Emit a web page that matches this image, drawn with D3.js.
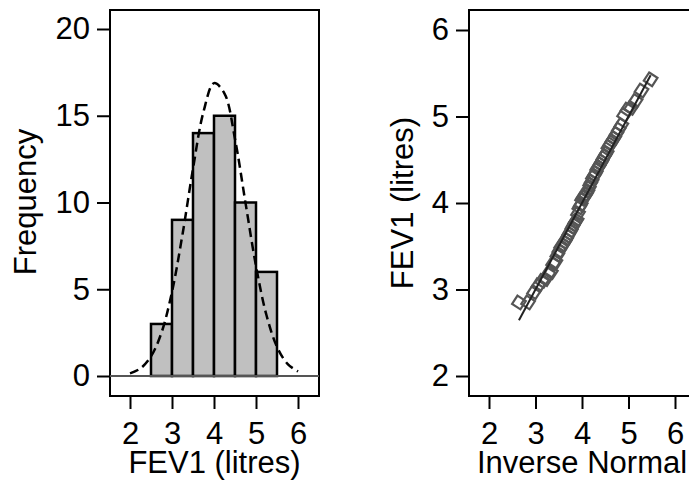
<!DOCTYPE html>
<html>
<head>
<meta charset="utf-8">
<script src="https://cdn.jsdelivr.net/npm/d3@7"></script>
<style>
  body { margin: 0; background: #fff; }
  svg { font-family: "Liberation Sans", Arial, Helvetica, sans-serif; }
  .tick text { font-size: 31px; fill: #000; }
  .tick line { stroke: #000; stroke-width: 2; }
</style>
</head>
<body>
<div id="chart"></div>
<script>
// histogram of FEV1 (bin starts, width 0.5)
const binStarts = [2.5, 3.0, 3.5, 4.0, 4.5, 5.0];
const binCounts = [3, 9, 14, 15, 10, 6];
const binWidth = 0.5;

// dashed normal density
const curveX = [2.0, 2.25, 2.5, 2.75, 3.0, 3.25, 3.5, 3.75, 4.0, 4.25, 4.5, 4.75, 5.0, 5.25, 5.5, 5.75, 6.0];
const curveY = [0.15, 0.44, 1.13, 2.5, 4.85, 8.16, 11.95, 15.23, 16.88, 16.28, 13.66, 9.98, 6.34, 3.5, 1.68, 0.7, 0.26];

// normal probability plot: inverse normal vs FEV1
const invNormal = [2.644, 2.841, 2.969, 3.066, 3.145, 3.214, 3.275, 3.330, 3.380, 3.427,
  3.471, 3.513, 3.552, 3.590, 3.626, 3.661, 3.696, 3.728, 3.761, 3.793,
  3.823, 3.854, 3.884, 3.914, 3.943, 3.973, 4.002, 4.031, 4.060, 4.089,
  4.118, 4.147, 4.177, 4.206, 4.236, 4.266, 4.297, 4.327, 4.359, 4.392,
  4.424, 4.459, 4.494, 4.530, 4.568, 4.607, 4.649, 4.693, 4.740, 4.790,
  4.845, 4.906, 4.975, 5.054, 5.151, 5.279, 5.476];
const fev1 = [2.85, 2.85, 2.97, 3.05, 3.10, 3.12, 3.18, 3.20, 3.30, 3.32,
  3.40, 3.45, 3.50, 3.52, 3.55, 3.58, 3.62, 3.65, 3.68, 3.72,
  3.75, 3.78, 3.80, 3.88, 3.95, 3.98, 4.05, 4.07, 4.08, 4.10,
  4.13, 4.17, 4.22, 4.25, 4.30, 4.32, 4.35, 4.40, 4.42, 4.45,
  4.48, 4.52, 4.55, 4.58, 4.65, 4.68, 4.72, 4.75, 4.80, 4.85,
  4.90, 5.02, 5.08, 5.10, 5.18, 5.30, 5.43];

const histTicksY = [0, 5, 10, 15, 20];
const ticks26 = [2, 3, 4, 5, 6];

const svg = d3.select('#chart').append('svg')
    .attr('width', 689).attr('height', 480);

// ---------- left panel: histogram ----------
let x1 = d3.scaleLinear().domain([2, 6]).range([130, 298]);
let y1 = d3.scaleLinear().domain([0, 20]).range([376, 29]);
let left = svg.append('g');

left.append('rect')
    .attr('x', 110).attr('y', 10).attr('width', 209).attr('height', 386)
    .attr('fill', 'none').attr('stroke', '#000').attr('stroke-width', 2);

left.selectAll('.bar')
    .data(binStarts)
    .enter().append('rect')
    .attr('class', 'bar')
    .attr('x', d => x1(d))
    .attr('y', (d, i) => y1(binCounts[i]))
    .attr('width', d => x1(d + binWidth) - x1(d))
    .attr('height', (d, i) => y1(0) - y1(binCounts[i]))
    .attr('fill', '#c0c0c0')
    .attr('stroke', '#000')
    .attr('stroke-width', 2.5);

left.append('line')
    .attr('x1', 110).attr('x2', 319)
    .attr('y1', y1(0)).attr('y2', y1(0))
    .attr('stroke', '#555').attr('stroke-width', 2);

let curveLine = d3.line()
    .x((d, i) => x1(d))
    .y((d, i) => y1(curveY[i]))
    .curve(d3.curveCatmullRom);

left.append('path')
    .attr('d', curveLine(curveX))
    .attr('fill', 'none')
    .attr('stroke', '#000')
    .attr('stroke-width', 2.5)
    .attr('stroke-dasharray', '9,5');

left.append('g')
    .attr('transform', 'translate(110,0)')
    .call(d3.axisLeft(y1).tickValues(histTicksY).tickFormat(d3.format('d')).tickSize(13).tickPadding(7))
    .call(g => g.select('.domain').remove());

left.append('g')
    .attr('transform', 'translate(0,396)')
    .call(d3.axisBottom(x1).tickValues(ticks26).tickFormat(d3.format('d')).tickSize(13).tickPadding(13))
    .call(g => g.select('.domain').remove());

left.append('text')
    .attr('transform', 'translate(36,202) rotate(-90)')
    .attr('text-anchor', 'middle')
    .attr('font-size', 31)
    .text('Frequency');

left.append('text')
    .attr('x', 214.5).attr('y', 473)
    .attr('text-anchor', 'middle')
    .attr('font-size', 31)
    .text('FEV1 (litres)');

// ---------- right panel: normal plot ----------
let x2 = d3.scaleLinear().domain([2, 6]).range([489, 675]);
let y2 = d3.scaleLinear().domain([2, 6]).range([376, 30]);
let right = svg.append('g');

right.append('rect')
    .attr('x', 469).attr('y', 10).attr('width', 229).attr('height', 386)
    .attr('fill', 'none').attr('stroke', '#000').attr('stroke-width', 2);

const diamond = 'M0,-7L7,0L0,7L-7,0Z';

right.selectAll('.pt')
    .data(invNormal)
    .enter().append('path')
    .attr('class', 'pt')
    .attr('d', diamond)
    .attr('transform', (d, i) => `translate(${x2(d)},${y2(fev1[i])}) rotate(-12)`)
    .attr('fill', 'none')
    .attr('stroke', '#555')
    .attr('stroke-width', 2.2);

let lo = d3.min(invNormal), hi = d3.max(invNormal);
right.append('line')
    .attr('x1', x2(lo)).attr('y1', y2(lo))
    .attr('x2', x2(hi)).attr('y2', y2(hi))
    .attr('stroke', '#222').attr('stroke-width', 2);

right.append('g')
    .attr('transform', 'translate(469,0)')
    .call(d3.axisLeft(y2).tickValues(ticks26).tickFormat(d3.format('d')).tickSize(13).tickPadding(7))
    .call(g => g.select('.domain').remove());

right.append('g')
    .attr('transform', 'translate(0,396)')
    .call(d3.axisBottom(x2).tickValues(ticks26).tickFormat(d3.format('d')).tickSize(13).tickPadding(13))
    .call(g => g.select('.domain').remove());

right.append('text')
    .attr('transform', 'translate(413,203) rotate(-90)')
    .attr('text-anchor', 'middle')
    .attr('font-size', 31)
    .text('FEV1 (litres)');

right.append('text')
    .attr('x', 582).attr('y', 473)
    .attr('text-anchor', 'middle')
    .attr('font-size', 31)
    .text('Inverse Normal');
</script>
</body>
</html>
